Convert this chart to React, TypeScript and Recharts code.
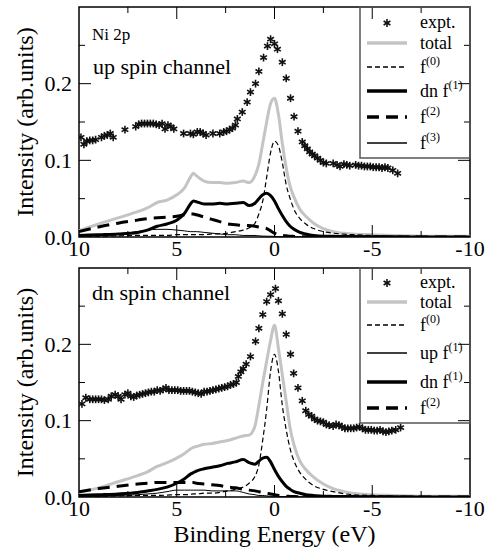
import React from 'react';
import { ComposedChart, Line, Scatter, XAxis, YAxis, ReferenceArea } from 'recharts';

const FONT = '"Liberation Serif", "Times New Roman", serif';

// binding energy grid (eV) for the model curves
const energies = [10, 9, 8, 7, 6.5, 6, 5.5, 5, 4.6, 4.3, 4.15, 4, 3.6, 3.2, 2.8, 2.4, 2, 1.6, 1.3, 1, 0.8, 0.6, 0.4, 0.2, 0, -0.2, -0.4, -0.6, -0.8, -1, -1.3, -1.6, -2, -2.5, -3, -4, -5, -6, -8, -10];

// up spin channel
const upTotal = [0.008, 0.017, 0.025, 0.033, 0.038, 0.045, 0.048, 0.055, 0.064, 0.078, 0.083, 0.080, 0.073, 0.071, 0.071, 0.070, 0.071, 0.073, 0.071, 0.080, 0.095, 0.122, 0.150, 0.174, 0.181, 0.160, 0.122, 0.090, 0.066, 0.052, 0.036, 0.027, 0.018, 0.011, 0.007, 0.004, 0.003, 0.002, 0.001, 0.001];
const upF0 = [0.001, 0.001, 0.0015, 0.002, 0.002, 0.002, 0.002, 0.003, 0.003, 0.003, 0.003, 0.003, 0.003, 0.004, 0.004, 0.005, 0.007, 0.009, 0.012, 0.018, 0.030, 0.047, 0.078, 0.110, 0.125, 0.119, 0.097, 0.068, 0.050, 0.036, 0.024, 0.017, 0.011, 0.007, 0.005, 0.003, 0.002, 0.001, 0.0006, 0.0003];
const upDnF1 = [0.002, 0.003, 0.004, 0.006, 0.009, 0.014, 0.017, 0.022, 0.031, 0.043, 0.047, 0.046, 0.043, 0.043, 0.044, 0.043, 0.044, 0.045, 0.041, 0.044, 0.050, 0.055, 0.057, 0.054, 0.047, 0.037, 0.028, 0.020, 0.014, 0.010, 0.006, 0.004, 0.002, 0.001, 0.001, 0.0005, 0.0003, 0.0002, 0.0001, 0.0001];
const upF2 = [0.007, 0.013, 0.018, 0.022, 0.024, 0.025, 0.026, 0.027, 0.029, 0.030, 0.030, 0.029, 0.026, 0.023, 0.020, 0.017, 0.016, 0.015, 0.015, 0.014, 0.013, 0.012, 0.011, 0.008, 0.005, 0.003, 0.002, 0.0015, 0.001, 0.0008, 0.0005, 0.0004, 0.0003, 0.0002, 0.0001, 0.0001, 0.0001, 0.0001, 0.0001, 0.0001];
const upF3 = [0.001, 0.002, 0.004, 0.007, 0.009, 0.010, 0.010, 0.009, 0.008, 0.007, 0.007, 0.007, 0.006, 0.005, 0.004, 0.003, 0.003, 0.002, 0.002, 0.002, 0.0015, 0.0012, 0.001, 0.001, 0.0008, 0.0006, 0.0005, 0.0004, 0.0003, 0.0002, 0.0002, 0.0001, 0.0001, 0.0001, 0.0001, 0.0001, 0.0001, 0.0001, 0.0001, 0.0001];

// dn spin channel
const dnTotal = [0.006, 0.012, 0.020, 0.028, 0.033, 0.040, 0.045, 0.051, 0.057, 0.063, 0.065, 0.066, 0.069, 0.070, 0.072, 0.074, 0.077, 0.080, 0.081, 0.093, 0.120, 0.150, 0.178, 0.205, 0.225, 0.195, 0.160, 0.125, 0.090, 0.068, 0.047, 0.036, 0.026, 0.017, 0.011, 0.005, 0.003, 0.002, 0.001, 0.001];
const dnF0 = [0.001, 0.001, 0.0015, 0.002, 0.002, 0.002, 0.0025, 0.003, 0.003, 0.0035, 0.004, 0.004, 0.005, 0.005, 0.006, 0.008, 0.010, 0.013, 0.018, 0.027, 0.042, 0.075, 0.115, 0.165, 0.187, 0.165, 0.120, 0.088, 0.063, 0.047, 0.032, 0.023, 0.015, 0.010, 0.007, 0.003, 0.002, 0.001, 0.0006, 0.0003];
const dnUpF1 = [0.001, 0.001, 0.002, 0.003, 0.004, 0.005, 0.007, 0.009, 0.009, 0.009, 0.009, 0.009, 0.009, 0.008, 0.008, 0.008, 0.008, 0.006, 0.004, 0.003, 0.002, 0.002, 0.0015, 0.001, 0.001, 0.0008, 0.0006, 0.0005, 0.0004, 0.0003, 0.0002, 0.0002, 0.0001, 0.0001, 0.0001, 0.0001, 0.0001, 0.0001, 0.0001, 0.0001];
const dnDnF1 = [0.002, 0.003, 0.004, 0.006, 0.008, 0.010, 0.013, 0.018, 0.024, 0.030, 0.032, 0.034, 0.037, 0.039, 0.041, 0.044, 0.046, 0.049, 0.045, 0.043, 0.047, 0.051, 0.052, 0.046, 0.036, 0.027, 0.020, 0.014, 0.010, 0.007, 0.005, 0.003, 0.002, 0.001, 0.0008, 0.0005, 0.0003, 0.0002, 0.0001, 0.0001];
const dnF2 = [0.007, 0.011, 0.014, 0.017, 0.018, 0.019, 0.019, 0.019, 0.019, 0.019, 0.019, 0.018, 0.017, 0.016, 0.015, 0.013, 0.012, 0.010, 0.009, 0.008, 0.007, 0.006, 0.005, 0.004, 0.003, 0.002, 0.0015, 0.001, 0.0008, 0.0006, 0.0004, 0.0003, 0.0002, 0.0002, 0.0001, 0.0001, 0.0001, 0.0001, 0.0001, 0.0001];

// experiment [energy, intensity]
const upExpt = [
  [9.9, 0.130], [9.75, 0.121], [9.6, 0.125], [9.45, 0.126], [9.3, 0.126], [9.15, 0.127], [8.85, 0.130], [8.7, 0.132], [8.55, 0.133], [8.4, 0.135], [8.25, 0.130],
  [7.65, 0.140], [7.1, 0.144], [6.95, 0.147], [6.8, 0.148], [6.65, 0.148], [6.5, 0.148], [6.35, 0.148], [6.2, 0.148], [6.05, 0.147], [5.9, 0.146], [5.75, 0.148],
  [5.6, 0.141], [5.45, 0.146], [5.3, 0.144], [5.15, 0.141], [4.65, 0.135], [4.3, 0.135], [4.15, 0.134], [3.95, 0.137], [3.8, 0.137], [3.65, 0.135], [3.5, 0.133],
  [3.15, 0.135], [2.8, 0.135], [2.6, 0.137], [2.45, 0.138], [2.3, 0.140], [2.15, 0.142], [2.0, 0.146], [1.9, 0.154], [1.65, 0.163], [1.4, 0.176], [1.23, 0.189],
  [0.97, 0.200], [0.8, 0.216], [0.56, 0.234], [0.36, 0.249], [0.2, 0.258], [0.0, 0.252], [-0.15, 0.245], [-0.4, 0.228], [-0.6, 0.207], [-0.82, 0.181],
  [-1.0, 0.157], [-1.2, 0.138], [-1.42, 0.124], [-1.55, 0.119], [-1.68, 0.115], [-1.8, 0.111], [-1.93, 0.108], [-2.05, 0.106], [-2.2, 0.103], [-2.35, 0.100],
  [-2.5, 0.097], [-2.65, 0.096], [-3.0, 0.096], [-3.2, 0.094], [-3.35, 0.092], [-3.55, 0.095], [-3.7, 0.094], [-3.85, 0.093], [-4.15, 0.094], [-4.3, 0.093],
  [-4.45, 0.093], [-4.6, 0.092], [-4.75, 0.092], [-4.9, 0.092], [-5.05, 0.091], [-5.2, 0.091], [-5.35, 0.091], [-5.5, 0.090], [-5.65, 0.091], [-5.8, 0.090],
  [-6.05, 0.087], [-6.3, 0.083],
];
const dnExpt = [
  [9.85, 0.122], [9.65, 0.130], [9.45, 0.128], [9.3, 0.128], [9.15, 0.128], [9.0, 0.128], [8.85, 0.128], [8.7, 0.127], [8.5, 0.128], [8.35, 0.132], [8.15, 0.134],
  [8.0, 0.132], [7.85, 0.128], [7.65, 0.134], [7.5, 0.136], [7.35, 0.132], [7.2, 0.131], [7.05, 0.133], [6.9, 0.134], [6.75, 0.135], [6.6, 0.136], [6.45, 0.137],
  [6.3, 0.138], [6.15, 0.138], [6.0, 0.140], [5.85, 0.139], [5.7, 0.141], [5.55, 0.143], [5.4, 0.140], [5.25, 0.140], [5.1, 0.140], [4.95, 0.140], [4.8, 0.139],
  [4.65, 0.139], [4.5, 0.139], [4.35, 0.139], [4.2, 0.138], [4.05, 0.137], [3.9, 0.136], [3.75, 0.135], [3.6, 0.138], [3.45, 0.138], [3.3, 0.139], [3.15, 0.140],
  [3.0, 0.141], [2.85, 0.142], [2.7, 0.143], [2.55, 0.144], [2.4, 0.145], [2.25, 0.147], [2.1, 0.148], [1.95, 0.150], [1.85, 0.158], [1.72, 0.164], [1.6, 0.168],
  [1.45, 0.174], [1.23, 0.184], [0.97, 0.204], [0.8, 0.221], [0.6, 0.239], [0.4, 0.256], [0.2, 0.265], [-0.05, 0.273], [-0.2, 0.257], [-0.4, 0.240], [-0.6, 0.213],
  [-0.82, 0.187], [-0.98, 0.162], [-1.2, 0.143], [-1.42, 0.126], [-1.6, 0.113], [-1.75, 0.108], [-1.9, 0.106], [-2.05, 0.102], [-2.2, 0.100], [-2.35, 0.099],
  [-2.5, 0.098], [-2.65, 0.095], [-2.8, 0.094], [-3.0, 0.093], [-3.15, 0.095], [-3.3, 0.094], [-3.45, 0.092], [-3.6, 0.090], [-3.75, 0.090], [-3.9, 0.090],
  [-4.05, 0.090], [-4.2, 0.091], [-4.35, 0.092], [-4.5, 0.090], [-4.65, 0.088], [-4.8, 0.088], [-4.95, 0.088], [-5.1, 0.087], [-5.25, 0.087], [-5.4, 0.088],
  [-5.55, 0.086], [-5.7, 0.085], [-5.85, 0.086], [-6.0, 0.087], [-6.2, 0.088], [-6.45, 0.091],
];

const xTicks = [10, 7.5, 5, 2.5, 0, -2.5, -5, -7.5, -10];
const yTicks = [0, 0.05, 0.1, 0.15, 0.2, 0.25, 0.3];

const PLOT_W = 391;

const lineStyles: Record<string, any> = {
  total: { stroke: '#c4c4c4', strokeWidth: 3 },
  f0: { stroke: '#000', strokeWidth: 1.2, strokeDasharray: '5 3' },
  thick: { stroke: '#000', strokeWidth: 3 },
  f2: { stroke: '#000', strokeWidth: 3, strokeDasharray: '12 7' },
  thin: { stroke: '#000', strokeWidth: 1 },
};

const upRows = energies.map((e, i) => ({ e, total: upTotal[i], f0: upF0[i], dnf1: upDnF1[i], f2: upF2[i], f3: upF3[i] }));
const dnRows = energies.map((e, i) => ({ e, total: dnTotal[i], f0: dnF0[i], upf1: dnUpF1[i], dnf1: dnDnF1[i], f2: dnF2[i] }));

const upSeries = [
  { key: 'total', style: 'total', label: 'total' },
  { key: 'f0', style: 'f0', label: 'f', sup: '(0)' },
  { key: 'dnf1', style: 'thick', label: 'dn f', sup: '(1)' },
  { key: 'f2', style: 'f2', label: 'f', sup: '(2)' },
  { key: 'f3', style: 'thin', label: 'f', sup: '(3)' },
];
const dnSeries = [
  { key: 'total', style: 'total', label: 'total' },
  { key: 'f0', style: 'f0', label: 'f', sup: '(0)' },
  { key: 'upf1', style: 'thin', label: 'up f', sup: '(1)' },
  { key: 'dnf1', style: 'thick', label: 'dn f', sup: '(1)' },
  { key: 'f2', style: 'f2', label: 'f', sup: '(2)' },
];

const Asterisk = (props: any) => {
  const { cx, cy } = props;
  if (cx == null || cy == null) return <g />;
  const r = 3.9;
  return (
    <g stroke="#111" strokeWidth={1.6}>
      {[90, 30, 150].map((a) => {
        const dx = r * Math.cos((a * Math.PI) / 180);
        const dy = r * Math.sin((a * Math.PI) / 180);
        return <line key={a} x1={cx - dx} y1={cy - dy} x2={cx + dx} y2={cy + dy} />;
      })}
    </g>
  );
};

const makeXTick = (plotH: number) => (props: any) => {
  const { x, y, payload } = props;
  const v = payload.value;
  const major = v % 5 === 0;
  const len = major ? 12 : 6;
  const edge = Math.abs(v) === 10;
  return (
    <g>
      {!edge && <line x1={x} x2={x} y1={y} y2={y - len} stroke="#000" />}
      {!edge && <line x1={x} x2={x} y1={y - plotH} y2={y - plotH + len} stroke="#000" />}
      {major && (
        <text x={x} y={y + 19} textAnchor="middle" fontSize={22} fontFamily={FONT} fill="#000">
          {v}
        </text>
      )}
    </g>
  );
};

const makeYTick = (plotW: number) => (props: any) => {
  const { x, y, payload } = props;
  const v = payload.value;
  const major = Math.abs(v * 10 - Math.round(v * 10)) < 1e-6;
  const len = major ? 12 : 6;
  const edge = v === 0 || v > 0.29;
  return (
    <g>
      {!edge && <line x1={x} x2={x + len} y1={y} y2={y} stroke="#000" />}
      {!edge && <line x1={x + plotW} x2={x + plotW - len} y1={y} y2={y} stroke="#000" />}
      {major && v < 0.25 && (
        <text x={x - 7} y={y + 7.5} textAnchor="end" fontSize={22} fontFamily={FONT} fill="#000">
          {v.toFixed(1)}
        </text>
      )}
    </g>
  );
};

type PanelProps = {
  top: number;
  height: number;
  xAxisHeight: number;
  rows: any[];
  series: { key: string; style: string; label: string; sup?: string }[];
  expt: number[][];
  legendYs: number[];
  legendBottom: number;
  notes: { text: string; x: number; y: number; size: number }[];
  xLabel?: string;
};

function Panel({ top, height, xAxisHeight, rows, series, expt, legendYs, legendBottom, notes, xLabel }: PanelProps) {
  const plotTop = 7;
  const plotBottom = height - xAxisHeight;
  const plotH = plotBottom - plotTop;
  const exptData = expt.map(([e, i]) => ({ e, i }));
  return (
    <div style={{ position: 'absolute', left: 0, top, width: 496, height }}>
      <ComposedChart width={496} height={height} data={rows} margin={{ top: plotTop, right: 26, bottom: 0, left: 0 }}>
        <XAxis dataKey="e" type="number" domain={[-10, 10]} reversed ticks={xTicks} interval={0}
          tick={makeXTick(plotH)} tickSize={0} tickMargin={0} tickLine={false} axisLine={false}
          height={xAxisHeight} allowDataOverflow />
        <YAxis type="number" domain={[0, 0.3]} ticks={yTicks} interval={0}
          tick={makeYTick(PLOT_W)} tickSize={0} tickMargin={0} tickLine={false} axisLine={false}
          width={79} allowDataOverflow />
        {series.map((s) => (
          <Line key={s.key} dataKey={s.key} type="monotone" dot={false} activeDot={false}
            isAnimationActive={false} strokeLinejoin="round" {...lineStyles[s.style]} />
        ))}
        <Scatter data={exptData} dataKey="i" shape={Asterisk} isAnimationActive={false} />
        <ReferenceArea x1={10} x2={-10} y1={0} y2={0.3} fill="none" stroke="#000" strokeWidth={1.5} />
      </ComposedChart>
      <svg width={496} height={height} style={{ position: 'absolute', left: 0, top: 0, pointerEvents: 'none' }}
        fontFamily={FONT}>
        {/* legend */}
        <rect x={360} y={plotTop} width={110} height={legendBottom - plotTop} fill="none" stroke="#555" strokeWidth={1.5} />
        <Asterisk cx={387} cy={legendYs[0]} />
        <text x={420} y={legendYs[0] + 5} fontSize={18} fill="#000">expt.</text>
        {series.map((s, idx) => {
          const ly = legendYs[idx + 1];
          const st = lineStyles[s.style];
          return (
            <g key={s.key}>
              <line x1={367} x2={407} y1={ly} y2={ly} stroke={st.stroke} strokeWidth={st.strokeWidth + 0.5}
                strokeDasharray={st.strokeDasharray} />
              <text x={420} y={ly + 6} fontSize={18} fill="#000">
                {s.label}
                {s.sup && <tspan dy={-8} fontSize={12}>{s.sup}</tspan>}
              </text>
            </g>
          );
        })}
        {notes.map((n) => (
          <text key={n.text} x={n.x} y={n.y} fontSize={n.size} fill="#000">{n.text}</text>
        ))}
        <text x={33} y={plotTop + plotH / 2} fontSize={24} fill="#000" textAnchor="middle"
          transform={`rotate(-90, 33, ${plotTop + plotH / 2})`}>
          Intensity (arb.units)
        </text>
        {xLabel && (
          <text x={274.5} y={plotBottom + 45} fontSize={24} fill="#000" textAnchor="middle">{xLabel}</text>
        )}
      </svg>
    </div>
  );
}

export default function App() {
  return (
    <div style={{ position: 'absolute', left: 0, top: 0, width: 496, height: 550, background: '#fff', fontFamily: FONT }}>
      <Panel top={0} height={262} xAxisHeight={25} rows={upRows} series={upSeries} expt={upExpt}
        legendYs={[23, 43, 67, 91, 117, 143]} legendBottom={158}
        notes={[
          { text: 'Ni 2p', x: 92, y: 40, size: 17 },
          { text: 'up spin channel', x: 93, y: 74, size: 22 },
        ]} />
      <Panel top={261} height={289} xAxisHeight={53} rows={dnRows} series={dnSeries} expt={dnExpt}
        legendYs={[22, 41, 64, 92, 121, 147]} legendBottom={162}
        notes={[{ text: 'dn spin channel', x: 92, y: 39, size: 22 }]}
        xLabel="Binding Energy (eV)" />
    </div>
  );
}
